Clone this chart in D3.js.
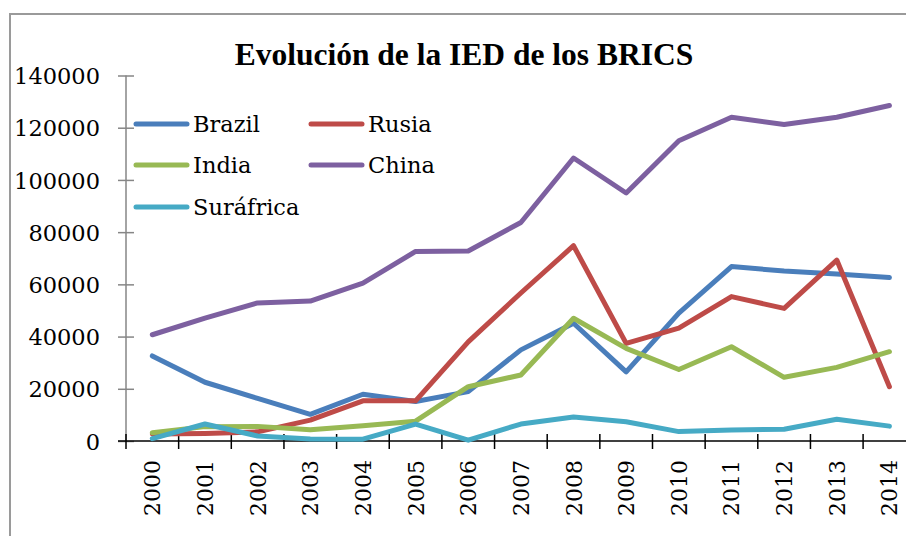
<!DOCTYPE html>
<html>
<head>
<meta charset="utf-8">
<script src="https://cdn.jsdelivr.net/npm/d3@7"></script>
<style>
  html, body { margin: 0; padding: 0; background: #fff; overflow: hidden; }
  svg { display: block; }
</style>
</head>
<body>
<svg id="chart" width="906" height="536"></svg>
<script>
const years = ["2000","2001","2002","2003","2004","2005","2006","2007","2008","2009","2010","2011","2012","2013","2014"];
const brazil   = [32600, 22500, 16300, 10200, 17900, 15100, 18900, 34900, 45100, 26500, 49000, 66800, 65100, 64000, 62600];
const rusia    = [2700, 2900, 3500, 8000, 15400, 15400, 38000, 56700, 74800, 37400, 43200, 55300, 50800, 69300, 20800];
const india    = [3200, 5500, 5600, 4300, 5800, 7600, 20800, 25300, 47000, 35500, 27400, 36100, 24400, 28200, 34200];
const china    = [40700, 47100, 52900, 53600, 60500, 72600, 72800, 83700, 108400, 95000, 115000, 124000, 121200, 124000, 128500];
const surafrica= [900, 6500, 1900, 800, 700, 6500, 300, 6500, 9200, 7400, 3600, 4200, 4500, 8300, 5700];
const seriesNames = ["Brazil", "Rusia", "India", "China", "Suráfrica"];
const seriesColors = ["#4A7EBB", "#BE4B48", "#98B954", "#7D60A0", "#46AAC5"];
const yTicks = [0, 20000, 40000, 60000, 80000, 100000, 120000, 140000];
const title = "Evolución de la IED de los BRICS";

const seriesValues = [brazil, rusia, india, china, surafrica];

const svg = d3.select("#chart");
const titleFont = "Liberation Serif";
const labelFont = "DejaVu Serif";

// outer chart border (only left and top visible)
svg.append("path")
  .attr("d", "M10,536 L10,14 L906,14")
  .attr("fill", "none").attr("stroke", "#9a9a9a").attr("stroke-width", 2);

const x0 = 126, yTop = 75.5, yBottom = 441;
const bandW = 52.65;
const x = d3.scaleBand().domain(years).range([x0, x0 + bandW * years.length]).paddingInner(0).paddingOuter(0);
const y = d3.scaleLinear().domain([0, 140000]).range([yBottom, yTop]);

// title
svg.append("text")
  .attr("x", 464).attr("y", 65)
  .attr("text-anchor", "middle")
  .style("font-family", titleFont).style("font-weight", "bold").style("font-size", "31.5px")
  .attr("fill", "#000")
  .text(title);

// y axis
const yAxis = d3.axisLeft(y).tickValues(yTicks).tickSize(0).tickFormat(d3.format("d"));
const yg = svg.append("g").attr("transform", `translate(${x0},0)`).call(yAxis);
yg.attr("font-family", null).attr("font-size", null);
yg.select(".domain").remove();
yg.selectAll(".tick text")
  .attr("x", -26).attr("dy", "0.36em")
  .style("font-family", labelFont).style("font-size", "22.5px").attr("fill", "#000");
yg.selectAll(".tick").append("line")
  .attr("x1", -8).attr("x2", 8)
  .attr("stroke", "#868686").attr("stroke-width", 1.5);
svg.append("line")
  .attr("x1", x0).attr("x2", x0).attr("y1", y(140000)).attr("y2", y(0))
  .attr("stroke", "#868686").attr("stroke-width", 1.5);

// x axis
const boundaries = years.map(d => x(d)).concat([x(years[years.length - 1]) + x.bandwidth()]);
const xg = svg.append("g");
xg.append("line")
  .attr("x1", x0 - 8).attr("x2", boundaries[boundaries.length - 1])
  .attr("y1", y(0)).attr("y2", y(0))
  .attr("stroke", "#000").attr("stroke-width", 1.5);
xg.selectAll("line.tk").data(boundaries).enter().append("line")
  .attr("class", "tk")
  .attr("x1", d => d).attr("x2", d => d)
  .attr("y1", y(0) - 7).attr("y2", y(0) + 8)
  .attr("stroke", "#000").attr("stroke-width", 1.5);
xg.selectAll("text.yr").data(years).enter().append("text")
  .attr("class", "yr")
  .attr("transform", d => `translate(${x(d) + x.bandwidth() / 2 + 8},${y(0) + 19}) rotate(-90)`)
  .attr("text-anchor", "end")
  .style("font-family", labelFont).style("font-size", "22px").attr("fill", "#000")
  .text(d => d);

// lines
const line = d3.line()
  .x((d, i) => x(years[i]) + x.bandwidth() / 2)
  .y(d => y(d));

seriesValues.forEach((vals, si) => {
  svg.append("path")
    .datum(vals)
    .attr("d", line)
    .attr("fill", "none")
    .attr("stroke", seriesColors[si])
    .attr("stroke-width", 5)
    .attr("stroke-linejoin", "round")
    .attr("stroke-linecap", "round");
});

// legend
const legendPos = [
  {x: 134, y: 124}, {x: 309, y: 124},
  {x: 134, y: 165}, {x: 309, y: 165},
  {x: 134, y: 207}
];
seriesNames.forEach((name, i) => {
  const p = legendPos[i];
  svg.append("line")
    .attr("x1", p.x + 2).attr("x2", p.x + 53)
    .attr("y1", p.y).attr("y2", p.y)
    .attr("stroke", seriesColors[i]).attr("stroke-width", 5)
    .attr("stroke-linecap", "round");
  svg.append("text")
    .attr("x", p.x + 59).attr("y", p.y + 8)
    .style("font-family", labelFont).style("font-size", "22.5px").attr("fill", "#000")
    .text(name);
});
</script>
</body>
</html>
